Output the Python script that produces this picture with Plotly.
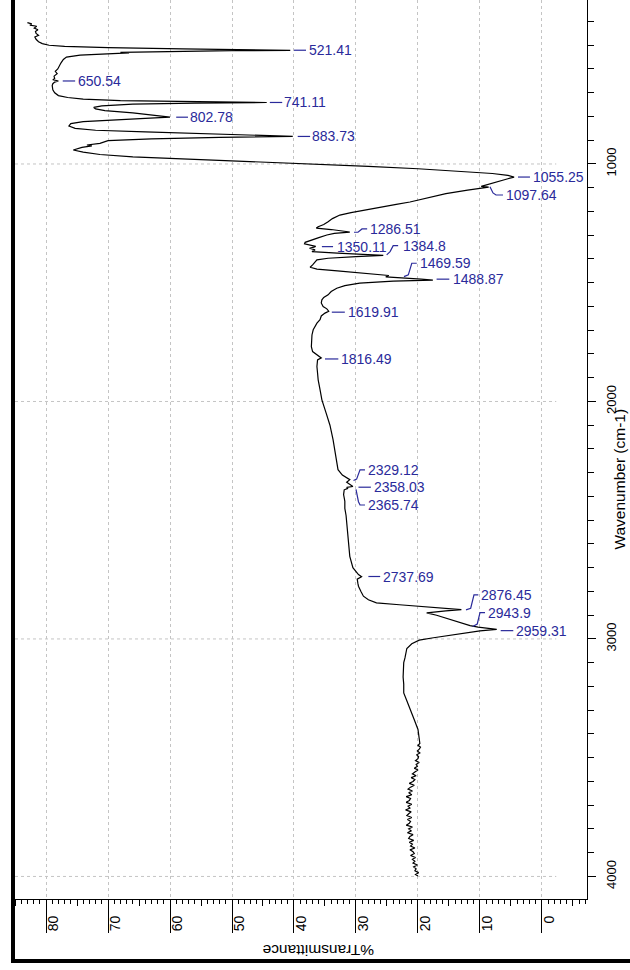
import plotly.graph_objects as go

# ---------------- data: IR spectrum (wavenumber cm-1, %T) ----------------
wavenumber = [
    405, 410, 415, 420, 428, 435, 442, 450, 458, 465, 475, 485, 493, 500, 505, 510, 515, 519,
    521.41, 523, 526, 530, 532, 536, 542, 550, 560, 575, 590, 600, 610, 620, 630, 640, 645,
    650.54, 655, 662, 670, 680, 688, 700, 712, 720, 727, 733, 737,
    741.11, 744, 748, 755, 762, 768, 775, 785, 795,
    802.78, 808, 815, 822, 830, 840, 850, 858, 865, 872, 878,
    883.73, 888, 894, 902, 913, 920, 924, 930, 941, 950, 960, 970, 980, 990, 1000, 1010, 1020,
    1030, 1040, 1048,
    1055.25, 1062, 1070, 1080, 1088, 1094,
    1097.64, 1102, 1110, 1125, 1140, 1151, 1160, 1170, 1185, 1194, 1205, 1215, 1230, 1243,
    1255, 1264, 1270, 1276, 1282,
    1286.51, 1292, 1299, 1310, 1320, 1330, 1336, 1342, 1347,
    1350.11, 1355, 1362, 1369, 1375, 1380,
    1384.8, 1390, 1397, 1404, 1415, 1425, 1435, 1440, 1443, 1450, 1460, 1466,
    1469.59, 1475, 1480, 1485,
    1488.87, 1493, 1502, 1512, 1523, 1537, 1551, 1562, 1572, 1585, 1600, 1610,
    1619.91, 1628, 1640, 1656, 1670, 1685, 1698, 1720, 1745, 1769, 1790, 1805,
    1816.49, 1825, 1840, 1853, 1880, 1909, 1950, 1993, 2050, 2100, 2161, 2220, 2287, 2310,
    2329.12, 2340, 2350,
    2358.03, 2362,
    2365.74, 2372, 2392, 2420, 2450, 2480, 2512, 2545, 2580, 2615, 2652, 2700, 2729,
    2737.69, 2748, 2765, 2778, 2800, 2820, 2835, 2848, 2856, 2862, 2868,
    2876.45, 2882, 2890, 2900, 2910, 2918, 2930, 2939,
    2943.9, 2950,
    2959.31, 2966, 2975, 2985, 2995, 3005, 3020, 3040, 3060, 3080, 3100, 3130, 3160, 3190,
    3227, 3260, 3297, 3340, 3381, 3410, 3432,
    3440, 3448, 3456, 3464, 3472, 3480, 3488, 3496, 3504, 3512, 3520, 3528, 3536, 3544,
    3552, 3560, 3568, 3576, 3584, 3592, 3600, 3608, 3616, 3624, 3632, 3640, 3648, 3656,
    3664, 3672, 3680, 3688, 3696, 3704, 3712, 3720, 3728, 3736, 3744, 3752, 3760, 3768,
    3776, 3784, 3792, 3800, 3808, 3816, 3824, 3832, 3840, 3848, 3856, 3864, 3872, 3880,
    3888, 3896, 3904, 3912, 3920, 3928, 3936, 3944, 3952, 3960, 3968, 3976, 3984, 3992, 3998,
]
transmittance = [
    83.0, 82.3, 82.6, 81.5, 81.9, 81.3, 81.7, 81.6, 81.2, 81.8, 81.6, 81.2, 80.6, 79.5, 77.0, 70.0, 58.0, 46.0,
    40.6, 50.0, 62.0, 68.0, 66.6, 70.5, 74.5, 76.7, 77.2, 77.6, 77.9, 78.1, 78.5, 78.2, 78.7, 78.6, 78.9,
    78.0, 78.6, 78.9, 79.0, 79.0, 78.9, 78.6, 78.0, 76.5, 74.0, 68.0, 58.0,
    44.4, 56.0, 66.0, 71.0, 72.3, 72.0, 70.5, 66.0, 62.0,
    60.0, 64.0, 70.0, 74.0, 76.0, 76.3, 75.3, 72.0, 64.0, 55.0, 45.0,
    40.2, 52.0, 63.0, 70.0, 71.3, 73.4, 72.6, 74.2, 75.6, 74.0, 71.3, 66.0, 56.0, 45.0, 36.3, 28.0, 20.0,
    13.0, 8.0, 5.5,
    4.5, 5.5, 6.6, 8.2, 9.4, 9.8,
    8.6, 10.0, 12.0, 15.5, 18.0, 19.3, 21.3, 23.5, 26.8, 28.3, 30.8, 32.6, 33.8, 34.5,
    35.2, 36.1, 36.4, 34.0, 32.0,
    31.0, 33.5, 34.7, 36.0, 37.2, 38.2, 38.3, 37.2, 36.5,
    36.8, 37.5, 36.6, 37.1, 33.0, 28.0,
    25.6, 30.0, 34.5, 36.3, 36.6, 37.0, 37.4, 36.6, 36.3, 33.0, 28.0, 25.5,
    24.7, 25.2, 23.0, 19.5,
    17.6, 24.0, 29.4, 31.8, 33.1, 34.0, 34.5, 35.2, 35.5, 35.6, 35.3, 34.7,
    34.4, 35.0, 35.6, 35.8, 36.3, 36.6, 36.9, 37.1, 37.2, 37.2, 37.0, 36.3,
    35.6, 36.2, 36.3, 36.3, 36.2, 36.1, 35.8, 35.5, 34.8, 34.2, 33.7, 33.3, 32.9, 32.2,
    31.0, 31.5, 31.0,
    30.5, 31.5,
    31.3, 31.9, 32.0, 31.8, 31.8, 31.6, 31.5, 31.4, 31.3, 31.1, 31.0, 30.5, 29.6,
    29.1, 29.8, 29.7, 29.6, 29.2, 28.8, 28.0, 26.7, 23.0, 20.2, 16.5,
    13.0, 15.5, 18.6, 17.0, 15.8, 14.8, 13.4, 12.1,
    11.6, 10.3,
    7.3, 10.0, 12.5, 14.8, 17.5, 19.8, 21.0, 21.8, 21.9, 22.1, 22.3, 22.4, 22.4, 22.3,
    22.3, 21.8, 21.3, 20.6, 20.0, 19.8, 19.7,
    19.7, 20.0, 19.6, 19.8, 20.1, 19.7, 20.2, 19.9, 20.0, 20.4, 19.8, 20.3, 20.1, 20.6,
    20.0, 20.5, 20.9, 20.3, 21.1, 20.5, 20.8, 21.4, 20.6, 21.2, 21.6, 20.9, 21.5, 21.0,
    21.9, 21.2, 21.4, 21.9, 21.0, 21.6, 21.3, 22.0, 21.1, 21.5, 21.8, 21.0, 21.7, 21.2,
    21.4, 21.9, 20.9, 21.5, 21.1, 21.7, 20.8, 21.3, 21.5, 20.7, 21.4, 20.9, 21.2, 20.5,
    21.3, 20.8, 20.6, 21.2, 20.4, 20.9, 20.5, 20.8, 20.1, 20.7, 20.3, 20.5, 19.9, 20.4, 20.0,
]

# ---------------- peak labels ----------------
peak_labels = ["521.41", "650.54", "741.11", "802.78", "883.73", "1055.25", "1097.64",
               "1286.51", "1350.11", "1384.8", "1469.59", "1488.87", "1619.91", "1816.49",
               "2329.12", "2358.03", "2365.74", "2737.69", "2876.45", "2943.9", "2959.31"]
# text anchor (left edge %T, centre wavenumber)
label_T = [37.7, 75.0, 41.8, 56.9, 37.3, 1.6, 5.97,
           27.9, 33.2, 22.6, 19.8, 14.56, 31.5, 32.6,
           28.2, 27.3, 28.2, 25.85, 10.0, 8.92, 4.35]
label_w = [521, 650.5, 741, 803, 884, 1055, 1130.5,
           1273.6, 1348, 1344, 1418, 1485, 1624, 1821,
           2288, 2361, 2436, 2737, 2815, 2889, 2965]
# leader polylines (%T, wavenumber)
leaders = [
    [(40.0, 521), (38.06, 521)],
    [(77.3, 650.5), (75.3, 650.5)],
    [(43.9, 741), (41.9, 741)],
    [(59.0, 803), (57.1, 803)],
    [(39.4, 884), (37.4, 884)],
    [(3.87, 1055), (1.94, 1055)],
    [(8.39, 1095.6), (7.9, 1122), (7.42, 1130.5), (6.29, 1130.5)],
    [(30.32, 1287.5), (29.68, 1287.5), (29.03, 1273.6), (28.2, 1273.6)],
    [(35.5, 1348), (33.7, 1348)],
    [(25.05, 1383), (24.5, 1369), (24.0, 1344), (23.2, 1344)],
    [(22.26, 1474.5), (21.56, 1467), (21.0, 1418), (20.2, 1418)],
    [(17.0, 1485), (14.95, 1485)],
    [(33.9, 1624), (31.8, 1624)],
    [(35.0, 1821), (32.85, 1821)],
    [(30.4, 2333), (29.9, 2327), (29.35, 2288), (28.55, 2288)],
    [(29.6, 2361), (27.6, 2361)],
    [(30.0, 2370), (29.6, 2422), (29.35, 2436), (28.55, 2436)],
    [(28.0, 2737), (26.1, 2737)],
    [(12.26, 2877.7), (11.5, 2870.5), (10.97, 2814.5), (10.27, 2814.5)],
    [(11.18, 2948), (10.44, 2937), (10.0, 2889), (9.19, 2889)],
    [(6.66, 2965), (4.63, 2965)],
]

x_ticks = [0, 10, 20, 30, 40, 50, 60, 70, 80]
y_grid = [1000, 2000, 3000, 4000]

FONT = "Arial, 'Liberation Sans', Helvetica, sans-serif"
BLUE = "#2a2a9a"

fig = go.Figure()
fig.add_trace(go.Scatter(x=transmittance, y=wavenumber, mode="lines",
                         line=dict(color="black", width=1.2), hoverinfo="skip",
                         showlegend=False))
for pts in leaders:
    fig.add_trace(go.Scatter(x=[p[0] for p in pts], y=[p[1] for p in pts], mode="lines",
                             line=dict(color=BLUE, width=1.2), hoverinfo="skip",
                             showlegend=False))
# invisible trace for the secondary (mid-decade tick) axis
fig.add_trace(go.Scatter(x=[40], y=[2000], xaxis="x2", mode="markers",
                         marker=dict(opacity=0), hoverinfo="skip", showlegend=False))

for t, xv, yv in zip(peak_labels, label_T, label_w):
    fig.add_annotation(x=xv, y=yv, text=t, showarrow=False, xanchor="left",
                       yanchor="middle", font=dict(family=FONT, size=14, color=BLUE),
                       xshift=-1)

# horizontal dotted grid (stops short of the right axis)
for g in y_grid:
    fig.add_shape(type="line", x0=85, x1=-2.3, y0=g, y1=g, xref="x", yref="y",
                  line=dict(color="#c4c4c4", width=1, dash="dot"), layer="below")

# outer frame (left and bottom thick lines)
fig.add_shape(type="line", xref="paper", yref="paper", x0=-0.0035, x1=-0.0035,
              y0=1.0, y1=-0.0712, line=dict(color="black", width=4))
fig.add_shape(type="line", xref="paper", yref="paper", x0=-0.007, x1=1.08,
              y0=-0.069, y1=-0.069, line=dict(color="black", width=4))

fig.add_annotation(text="%Transmittance", xref="paper", yref="paper", x=0.5315, y=-0.0567,
                   showarrow=False, textangle=180, font=dict(family=FONT, size=15.5, color="black"),
                   xanchor="center", yanchor="middle")
fig.add_annotation(text="Wavenumber (cm-1)", xref="paper", yref="paper", x=1.056, y=0.4666,
                   showarrow=False, textangle=-90, font=dict(family=FONT, size=15.5, color="black"),
                   xanchor="center", yanchor="middle")

fig.update_layout(
    width=630, height=970,
    margin=dict(l=15, r=43, t=0, b=71),
    paper_bgcolor="white", plot_bgcolor="white",
    font=dict(family=FONT, color="black"),
    xaxis=dict(range=[85, -7.26], tickvals=x_ticks, ticktext=[str(v) for v in x_ticks],
               ticks="outside", ticklen=33, tickwidth=1.2, tickcolor="black",
               tickangle=-90, tickfont=dict(size=14, family=FONT),
               ticklabelstandoff=-23, ticklabelshift=-7,
               showline=True, linecolor="black", linewidth=1.3,
               showgrid=True, gridcolor="#c4c4c4", griddash="dot", gridwidth=1,
               zeroline=False,
               minor=dict(dtick=1, tick0=0, ticks="outside", ticklen=4, tickcolor="black",
                          tickwidth=1, showgrid=False)),
    xaxis2=dict(range=[85, -7.26], overlaying="x", anchor="y", side="bottom",
                tick0=5, dtick=10, ticks="outside", ticklen=6, tickwidth=1,
                tickcolor="black", showticklabels=False, showgrid=False,
                showline=False, zeroline=False),
    yaxis=dict(range=[4095, 309.5], side="right", tick0=0, dtick=1000,
               ticks="outside", ticklen=8, tickwidth=1.2, tickcolor="black",
               tickangle=-90, tickfont=dict(size=13, family=FONT),
               ticklabelstandoff=4,
               showline=True, linecolor="black", linewidth=1.3,
               showgrid=False, zeroline=False,
               minor=dict(dtick=100, tick0=0, ticks="outside", ticklen=6,
                          tickcolor="black", tickwidth=1, showgrid=False)),
    showlegend=False,
)

fig.write_html("out.html")
